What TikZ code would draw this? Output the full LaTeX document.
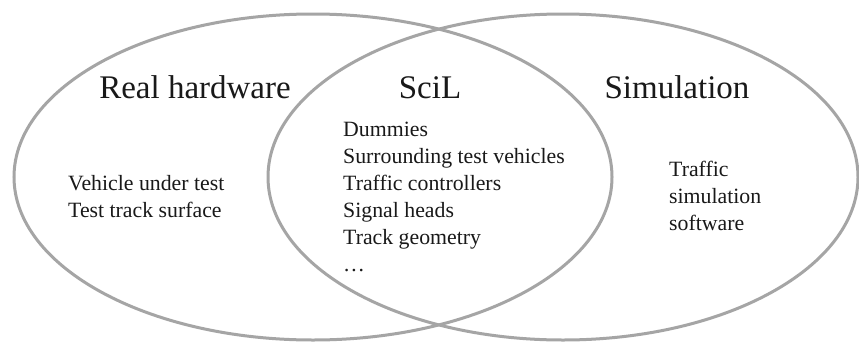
\documentclass[tikz,border=0pt]{standalone}
\usepackage{fontspec}
\setmainfont{Liberation Serif}
\usetikzlibrary{shapes.geometric}
\definecolor{ringgray}{RGB}{165,165,165}
\definecolor{ink}{RGB}{25,25,25}
\begin{document}
\begin{tikzpicture}[x=1pt,y=-1pt,
  ring/.style={ellipse, draw=ringgray, line width=3pt, inner sep=0pt},
  heading/.style={anchor=base, text=ink, inner sep=0pt, font=\fontsize{33}{36}\selectfont},
  itemlist/.style={anchor=base west, text=ink, inner sep=0pt, align=left, font=\fontsize{21.8}{27}\selectfont}]
  \useasboundingbox[fill=white] (0,0) rectangle (859,343);
  % the two overlapping domains
  \node[ring, minimum width=598pt, minimum height=326pt] (hw) at (313,177) {};
  \node[ring, minimum width=590pt, minimum height=326pt] (sim) at (563,177) {};
  % headings
  \node[heading] (hwt) at (195,98) {Real hardware};
  \node[heading] (scilt) at (430,98) {SciL};
  \node[heading] (simt) at (677,98) {Simulation};
  % contents of each region (anchored at the baseline of the last line)
  \node[itemlist] (hwl) at (68,217) {Vehicle under test\\Test track surface};
  \node[itemlist] (scill) at (343,271) {Dummies\\Surrounding test vehicles\\Traffic controllers\\Signal heads\\Track geometry\\\dots};
  \node[itemlist] (siml) at (669,230) {Traffic\\simulation\\software};
\end{tikzpicture}
\end{document}
